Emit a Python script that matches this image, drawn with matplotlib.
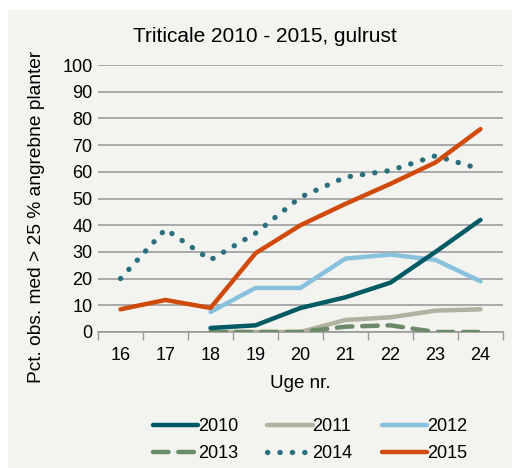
import matplotlib
matplotlib.use("Agg")
import matplotlib.pyplot as plt
from matplotlib.patches import Rectangle
import numpy as np

plt.rcParams['font.family'] = ['Liberation Sans', 'DejaVu Sans']

weeks = [16, 17, 18, 19, 20, 21, 22, 23, 24]
w18 = [18, 19, 20, 21, 22, 23, 24]
s2010 = [1.5, 2.5, 9, 13, 18.5, 30, 42]
s2011 = [0, 0, 0, 4.5, 5.5, 8, 8.5]
s2012 = [7.5, 16.5, 16.5, 27.5, 29, 27, 19]
s2013 = [0, 0, 0, 2, 2.5, 0, 0]
s2014 = [20, 38.5, 27, 37, 50.5, 58, 60.5, 66, 61]
s2015 = [8.5, 12, 9, 29.5, 40, 48, 55.5, 63.5, 76]

bg = '#f3f3ef'
fig = plt.figure(figsize=(5.12, 4.68), dpi=100)
fig.patch.set_facecolor('white')
fig.patches.append(Rectangle((8/512, 0), 1, 1 - 10/468, transform=fig.transFigure,
                             facecolor=bg, edgecolor='none', zorder=-10))
ax = fig.add_axes([98/512, 1 - 332/468, 405/512, 267/468])
ax.set_facecolor(bg)
ax.patch.set_alpha(0)

lw = 3.2
ax.plot(w18, s2011, color='#b2b09e', lw=lw, solid_capstyle='round', solid_joinstyle='round', label='2011', zorder=3)
ax.plot(w18, s2013, color='#6b8a69', lw=lw, linestyle=(0, (3.5, 2.2)), dash_capstyle='round', label='2013', zorder=4)
ax.plot(w18, s2012, color='#88c1de', lw=lw, solid_capstyle='round', solid_joinstyle='round', label='2012', zorder=3)
ax.plot(w18, s2010, color='#005a63', lw=lw, solid_capstyle='round', solid_joinstyle='round', label='2010', zorder=5)
ax.plot(weeks, s2014, color='#2a6f7e', lw=3.8, linestyle=(0, (0.05, 2.3)), dash_capstyle='round', label='2014', zorder=5)
ax.plot(weeks, s2015, color='#d04b0b', lw=lw, solid_capstyle='round', solid_joinstyle='round', label='2015', zorder=6)

ax.set_xlim(15.5, 24.5)
ax.set_ylim(0, 100)
ax.set_yticks(np.arange(0, 101, 10))
ax.set_xticks(weeks)
ax.set_xticks(np.arange(15.5, 24.6, 1), minor=True)
ax.tick_params(axis='x', which='major', length=0, pad=11, labelsize=13)
ax.tick_params(axis='x', which='minor', length=6, width=1, color='#999999', direction='out')
ax.tick_params(axis='y', length=0, pad=4, labelsize=13)
ax.grid(axis='y', color='#a3a3a3', lw=1.3, zorder=0)
ax.set_axisbelow(True)
for s in ['top', 'right', 'left']:
    ax.spines[s].set_visible(False)
ax.spines['bottom'].set_color('#999999')
ax.spines['bottom'].set_linewidth(1.2)

ax.set_xlabel('Uge nr.', fontsize=13.5, labelpad=8)
ax.set_ylabel('Pct. obs. med > 25 % angrebne planter', fontsize=13.8)
ax.yaxis.set_label_coords(-0.131, 0.43)
fig.text(265/512, 1 - 36/468, 'Triticale 2010 - 2015, gulrust', ha='center', va='center', fontsize=15)

handles, labels = ax.get_legend_handles_labels()
hmap = dict(zip(labels, handles))
seq = ['2010', '2013', '2011', '2014', '2012', '2015']
leg = fig.legend([hmap[k] for k in seq], seq, loc='center', bbox_to_anchor=(310/512, 1 - 440/468),
                 ncol=3, frameon=False, fontsize=13, handlelength=2.5, handletextpad=0.0,
                 columnspacing=1.6, labelspacing=0.55)

fig.savefig('out.png', dpi=100, facecolor=fig.get_facecolor())
